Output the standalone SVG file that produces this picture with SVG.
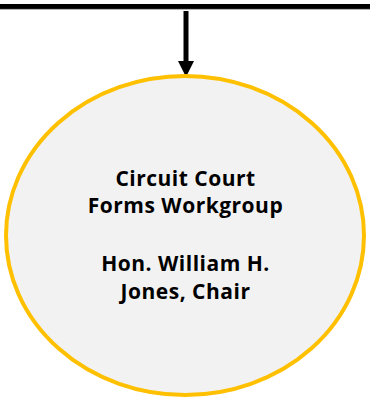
<svg xmlns="http://www.w3.org/2000/svg" width="370" height="399" viewBox="0 0 370 399">
<style>
.t{font-family:"Open Sans","Liberation Sans",sans-serif;font-weight:700;font-size:21px;letter-spacing:0.5px;fill:#000;text-anchor:middle}
</style>
<rect width="370" height="399" fill="#fff"/>
<g id="connectors">
<line x1="0" y1="6.5" x2="370" y2="6.5" stroke="#000" stroke-width="5"/>
<line x1="0" y1="9.3" x2="370" y2="9.3" stroke="#888" stroke-width="0.8"/>
<line x1="186" y1="11" x2="186" y2="62" stroke="#000" stroke-width="5"/>
<path d="M178,61 L194,61 L186,77 Z" fill="#000"/>
</g>
<g id="node-workgroup">
<ellipse cx="185" cy="235.5" rx="179" ry="159.5" fill="#F2F2F2" stroke="#FFC000" stroke-width="4"/>
<text class="t" x="185.5" y="186">Circuit Court</text>
<text class="t" x="185.5" y="213">Forms Workgroup</text>
<text class="t" x="185.5" y="271">Hon. William H.</text>
<text class="t" x="185.5" y="299">Jones, Chair</text>
</g>
</svg>
